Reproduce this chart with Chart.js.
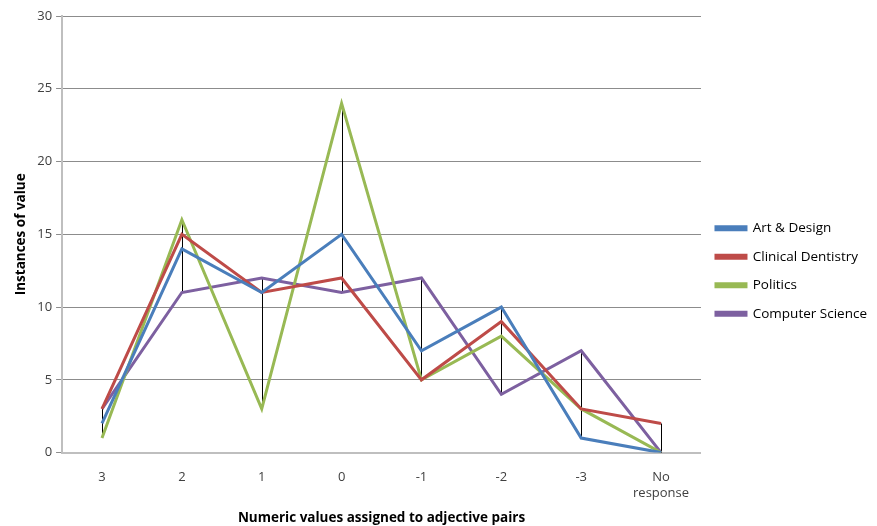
<!DOCTYPE html>
<html>
<head>
<meta charset="utf-8">
<script src="https://cdn.jsdelivr.net/npm/chart.js@4"></script>
<style>
  html, body { margin: 0; padding: 0; background: #fff; }
  #wrap { width: 877px; height: 526px; }
</style>
</head>
<body>
<div id="wrap"><canvas id="chart" width="877" height="526"></canvas></div>
<script>
// chart data
const categories = ['3', '2', '1', '0', '-1', '-2', '-3', ['No', 'response']];
const artDesign = [2, 14, 11, 15, 7, 10, 1, 0];
const clinicalDentistry = [3, 15, 11, 12, 5, 9, 3, 2];
const politics = [1, 16, 3, 24, 5, 8, 3, 0];
const computerScience = [3, 11, 12, 11, 12, 4, 7, 0];
const yTicks = [0, 5, 10, 15, 20, 25, 30];

const font = "'Open Sans', 'Noto Sans', sans-serif";

// thin black high-low lines between min and max at each category
const highLowLines = {
    id: 'highLowLines',
    beforeDatasetsDraw(chart) {
        const ctx = chart.ctx;
        const x = chart.scales.x;
        const y = chart.scales.y;
        const sets = chart.data.datasets.map(d => d.data);
        ctx.save();
        ctx.strokeStyle = '#000';
        ctx.lineWidth = 1;
        categories.forEach((c, i) => {
            const vals = sets.map(s => s[i]);
            const px = Math.round(x.getPixelForValue(i)) + 0.5;
            ctx.beginPath();
            ctx.moveTo(px, y.getPixelForValue(Math.min(...vals)));
            ctx.lineTo(px, y.getPixelForValue(Math.max(...vals)));
            ctx.stroke();
        });
        ctx.restore();
    }
};

const series = (label, data, color) => ({
    label: label,
    data: data,
    borderColor: color,
    backgroundColor: color,
    borderWidth: 3,
    pointRadius: 0,
    tension: 0,
    fill: false
});

new Chart(document.getElementById('chart').getContext('2d'), {
    type: 'line',
    data: {
        labels: categories,
        datasets: [
            series('Art & Design', artDesign, '#4A7EBB'),
            series('Clinical Dentistry', clinicalDentistry, '#BE4B48'),
            series('Politics', politics, '#98B954'),
            series('Computer Science', computerScience, '#7D60A0')
        ]
    },
    options: {
        responsive: false,
        animation: false,
        layout: { padding: { top: 16, right: 0, left: 9, bottom: 0 } },
        scales: {
            x: {
                offset: true,
                grid: { display: false, drawTicks: false },
                border: { color: '#BFBFBF', width: 2 },
                ticks: { color: '#404040', font: { family: font, size: 13 }, padding: 17, maxRotation: 0 },
                title: {
                    display: true,
                    text: 'Numeric values assigned to adjective pairs',
                    color: '#000',
                    font: { family: font, size: 13.5, weight: 'bold' },
                    padding: { top: -8, bottom: 0 }
                }
            },
            y: {
                min: 0,
                max: 30,
                afterBuildTicks: axis => { axis.ticks = yTicks.map(v => ({ value: v })); },
                grid: { color: '#8C8C8C', lineWidth: 1, tickLength: 6, tickColor: '#8C8C8C' },
                border: { color: '#BFBFBF', width: 2 },
                ticks: { color: '#404040', font: { family: font, size: 13 }, padding: 4 },
                title: {
                    display: true,
                    text: 'Instances of value',
                    color: '#000',
                    font: { family: font, size: 13.5, weight: 'bold' },
                    padding: { bottom: 4 }
                }
            }
        },
        plugins: {
            legend: {
                position: 'right',
                labels: {
                    boxWidth: 30,
                    boxHeight: 3,
                    padding: 15,
                    color: '#000',
                    font: { family: font, size: 13.5 }
                }
            },
            tooltip: { enabled: false }
        }
    },
    plugins: [highLowLines]
});
</script>
</body>
</html>
